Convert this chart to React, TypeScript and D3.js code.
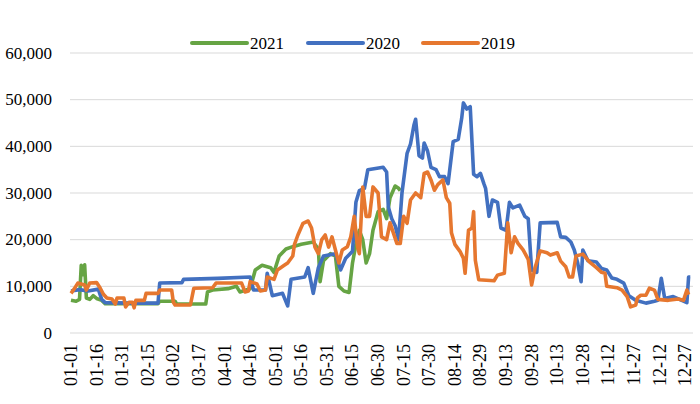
import * as d3 from 'd3';

// [day of year, value]
const series2021: Array<[number, number]> = [
  [0, 7000], [3, 6800], [5, 7200], [6, 14500], [7, 12500], [8, 14600], [9, 7500], [11, 7200],
  [13, 8000], [15, 7400], [18, 7000], [20, 6300], [30, 6300], [45, 6300], [51, 6300], [52, 6800],
  [61, 6800], [62, 6200], [79, 6200], [80, 8800], [83, 9200], [92, 9500], [97, 10000], [99, 8800],
  [105, 9500], [108, 13500], [112, 14500], [117, 14000], [119, 13000], [122, 16500], [126, 18000],
  [130, 18500], [135, 19000], [142, 19500], [145, 18000], [146, 11000], [148, 15500], [152, 17000],
  [155, 16500], [157, 10000], [160, 9000], [163, 8700], [165, 15000], [167, 19000], [169, 22000],
  [171, 20000], [173, 15000], [175, 17000], [177, 22000], [180, 26000], [183, 26500], [185, 24500],
  [187, 29000], [190, 31500], [192, 31000], [193, 30500],
];

const series2020: Array<[number, number]> = [
  [0, 9000], [5, 9300], [10, 9000], [16, 9400], [18, 7200], [20, 6500], [34, 6400], [51, 6400],
  [52, 10700], [65, 10800], [66, 11500], [86, 11700], [105, 12000], [107, 9200], [114, 9200],
  [115, 12800], [118, 8000], [124, 8500], [127, 5800], [129, 11500], [137, 12000], [139, 14000],
  [142, 8500], [145, 14000], [148, 16500], [155, 17000], [158, 13500], [161, 16000], [165, 17500],
  [167, 28000], [169, 30500], [172, 31000], [174, 35000], [183, 35500], [185, 34500], [186, 27000],
  [188, 24500], [190, 23000], [192, 20000], [194, 30000], [197, 38500], [199, 40500], [201, 44500],
  [202, 45800], [204, 38000], [206, 37500], [207, 40700], [209, 39000], [211, 35500], [214, 35000],
  [216, 33500], [219, 33500], [221, 32000], [224, 41000], [227, 41500], [229, 46000], [230, 49300],
  [232, 48000], [234, 48500], [236, 34000], [238, 33500], [240, 34200], [242, 32000], [243, 31000],
  [245, 25000], [247, 28500], [250, 28000], [252, 22500], [255, 22000], [257, 28000], [259, 26800],
  [263, 27400], [266, 25000], [268, 24500], [270, 13500], [273, 13000], [275, 23600], [285, 23700],
  [287, 20600], [290, 20500], [293, 19500], [295, 17800], [297, 15000], [299, 11000], [300, 17800],
  [303, 15500], [308, 15200], [311, 13800], [314, 13500], [317, 11800], [320, 11500], [324, 10700],
  [327, 8000], [331, 7000], [337, 6400], [342, 6800], [344, 7000], [346, 11700], [348, 7400],
  [353, 7800], [358, 7000], [361, 6500], [362, 12000], [363, 12000],
];

const series2019: Array<[number, number]> = [
  [0, 8500], [2, 9500], [4, 10700], [8, 10300], [9, 9200], [11, 10700], [15, 10800], [17, 9700],
  [19, 8300], [21, 7500], [24, 7300], [26, 6200], [27, 7500], [31, 7500], [32, 5600], [34, 6600],
  [36, 6600], [37, 5400], [38, 7000], [43, 7000], [44, 8500], [51, 8500], [52, 9200], [59, 9200],
  [60, 6600], [61, 6000], [70, 6000], [72, 9600], [83, 9700], [85, 10700], [100, 10700], [102, 8800],
  [104, 9000], [105, 11000], [109, 10500], [111, 9000], [114, 9200], [115, 12000], [119, 11500],
  [121, 13500], [125, 14500], [127, 15000], [130, 16500], [131, 19000], [133, 21000], [136, 23500],
  [139, 24000], [141, 22500], [143, 18400], [145, 17000], [147, 20000], [149, 21000], [151, 18400],
  [153, 20600], [155, 17800], [157, 15000], [159, 17800], [162, 18500], [164, 20600], [166, 25000],
  [168, 18400], [169, 17000], [170, 24000], [171, 31300], [173, 25000], [175, 25000], [177, 31300],
  [180, 30000], [182, 20600], [185, 20000], [187, 23600], [189, 21400], [191, 19200], [193, 19200],
  [195, 25000], [197, 23500], [199, 28500], [202, 30000], [205, 29000], [207, 34200], [209, 34500],
  [211, 32800], [213, 30600], [215, 31800], [218, 32800], [220, 29000], [222, 27800], [223, 21500],
  [225, 19000], [228, 17500], [230, 16000], [231, 12800], [233, 22000], [235, 22500], [236, 26000],
  [237, 15600], [239, 11400], [248, 11200], [250, 12400], [254, 12800], [256, 23600], [258, 17200],
  [260, 20600], [262, 19200], [265, 17800], [268, 15800], [270, 10300], [272, 14000], [275, 17600],
  [279, 17200], [281, 16700], [285, 17200], [287, 15400], [290, 14200], [292, 12000], [294, 12000],
  [296, 16500], [300, 16900], [304, 15200], [308, 14000], [311, 13000], [313, 12800], [314, 10000],
  [320, 9700], [323, 9200], [326, 7800], [328, 5600], [331, 6000], [332, 7500], [334, 8100],
  [337, 8100], [339, 9600], [342, 9200], [344, 7200], [350, 7000], [356, 7300], [359, 7000],
  [361, 9200], [362, 8200],
];

const tickDays = [0, 15, 30, 45, 60, 75, 90, 105, 120, 135, 150, 165, 180, 195, 210, 225, 240, 255, 270, 285, 300, 315, 330, 345, 360];
const tickLabels = ['01-01', '01-16', '01-31', '02-15', '03-02', '03-17', '04-01', '04-16', '05-01', '05-16', '05-31', '06-15', '06-30', '07-15', '07-30', '08-14', '08-29', '09-13', '09-28', '10-13', '10-28', '11-12', '11-27', '12-12', '12-27'];
const yTicks = [0, 10000, 20000, 30000, 40000, 50000, 60000];

const seriesList = [
  { name: '2021', color: '#66a444', data: series2021 },
  { name: '2020', color: '#4270c0', data: series2020 },
  { name: '2019', color: '#e6772f', data: series2019 },
];

const FONT = 'Liberation Serif, DejaVu Serif, serif';

export default function App() {
  const width = 700;
  const height = 404;

  const x = d3.scaleLinear().domain([0, 364]).range([71, 692]);
  const y = d3.scaleLinear().domain([0, 60000]).range([333, 53]);

  const line = d3.line<[number, number]>()
    .x(d => x(d[0]))
    .y(d => y(d[1]));

  const legendX = [192, 308, 423];

  return (
    <svg
      width={width}
      height={height}
      style={{ position: 'absolute', left: 0, top: 0, background: '#fff' }}
    >
      {/* Gridlines */}
      {yTicks.map(t => (
        <line key={t} x1={70} x2={693} y1={y(t)} y2={y(t)} stroke="#d9d9d9" strokeWidth={1} />
      ))}
      {/* Y labels */}
      {yTicks.map(t => (
        <text key={t} x={52} y={y(t)} textAnchor="end" dominantBaseline="central" fontSize={17} fontFamily={FONT} fill="#000">
          {d3.format(',')(t)}
        </text>
      ))}
      {/* X labels */}
      {tickDays.map((d, i) => (
        <text
          key={d}
          transform={`translate(${x(d)},344) rotate(-90)`}
          textAnchor="end"
          dominantBaseline="central"
          fontSize={18}
          fontFamily={FONT}
          fill="#000"
        >
          {tickLabels[i]}
        </text>
      ))}
      {/* Series */}
      {seriesList.map(s => (
        <path key={s.name} d={line(s.data) || ''} fill="none" stroke={s.color} strokeWidth={3.6} strokeLinejoin="round" />
      ))}
      {/* Legend */}
      {seriesList.map((s, i) => (
        <g key={s.name}>
          <line x1={legendX[i]} x2={legendX[i] + 55} y1={43} y2={43} stroke={s.color} strokeWidth={4} strokeLinecap="round" />
          <text x={legendX[i] + 58} y={43} dominantBaseline="central" fontSize={17} fontFamily={FONT} fill="#000">
            {s.name}
          </text>
        </g>
      ))}
    </svg>
  );
}
